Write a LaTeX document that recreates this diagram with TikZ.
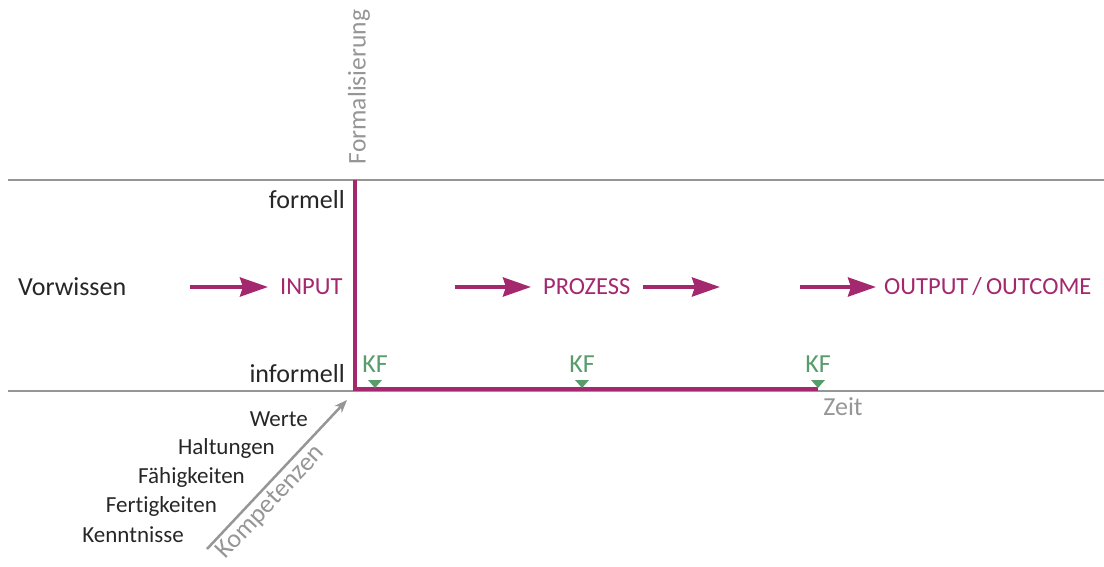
\documentclass[tikz,border=0pt]{standalone}
\usepackage{fontspec}
\setmainfont{Carlito}[Ligatures={NoCommon}]
\usetikzlibrary{arrows.meta}
\definecolor{magentaline}{RGB}{163,40,110}
\definecolor{kfgreen}{RGB}{88,156,108}
\definecolor{axisgray}{RGB}{150,150,150}
\tikzset{
  x=1pt, y=-1pt,
  txt/.style={font=\fontsize{26}{30}\selectfont, inner sep=0pt},
  blacktxt/.style={txt, text=black!85},
  listtxt/.style={blacktxt, font=\fontsize{23}{27}\selectfont},
  flowtxt/.style={txt, text=magentaline, font=\fontsize{24.5}{28}\selectfont},
  graytxt/.style={txt, text=axisgray},
  kftxt/.style={txt, text=kfgreen},
  flowarrow/.style={draw=magentaline, line width=4pt,
    -{Stealth[length=28pt, width=19pt, inset=3pt]}},
  axisline/.style={draw=axisgray, line width=2pt},
  mainline/.style={draw=magentaline, line width=4.5pt},
  marker/.style={fill=kfgreen, draw=none},
}
\begin{document}
\begin{tikzpicture}
\useasboundingbox (0,0) rectangle (1104,567);

% horizontal reference lines
\coordinate (tl) at (8,180);
\coordinate (tr) at (1104,180);
\coordinate (bl) at (8,391);
\coordinate (br) at (1104,391);
\draw[axisline] (tl) -- (tr);
\draw[axisline] (bl) -- (br);

% formalisation axis and time axis
\coordinate (origin) at (355,389);
\coordinate (top) at (355,180);
\coordinate (bottom) at (355,391);
\coordinate (tend) at (818,389);
\draw[mainline] (top) -- (bottom);
\draw[mainline] ([xshift=-2.25pt]origin) -- (tend);

\node[graytxt, rotate=90, font=\fontsize{25.5}{29}\selectfont] (formal) at (359,87) {Formalisierung};
\node[blacktxt, anchor=east] (formell) at (345,200) {formell};
\node[blacktxt, anchor=east] (informell) at (345,374) {informell};
\node[graytxt] (zeit) at (843,407) {Zeit};

% flow
\node[blacktxt, anchor=west] (vor) at (18,287) {Vorwissen};
\node[flowtxt, anchor=west] (input) at (280,287) {INPUT};
\node[flowtxt, anchor=west] (proz) at (543,287) {PROZESS};
\node[flowtxt, anchor=west] (out) at (884,287) {OUTPUT\,/\,OUTCOME};
\coordinate (a1s) at (190,287);
\coordinate (a1e) at (268,287);
\coordinate (a2s) at (455,287);
\coordinate (a2e) at (531,287);
\coordinate (a3s) at (643,287);
\coordinate (a3e) at (720,287);
\coordinate (a4s) at (800,287);
\coordinate (a4e) at (876,287);
\draw[flowarrow] (a1s) -- (a1e);
\draw[flowarrow] (a2s) -- (a2e);
\draw[flowarrow] (a3s) -- (a3e);
\draw[flowarrow] (a4s) -- (a4e);

% KF markers
\foreach \n/\x in {k1/375, k2/582, k3/818} {
  \node[kftxt] (\n) at (\x,364) {KF};
  \fill[marker] (\x-7,380) -- (\x+7,380) -- (\x,388) -- cycle;
}

% competences
\coordinate (cs) at (207,549);
\coordinate (ce) at (347,400);
\draw[draw=axisgray, line width=2.5pt, -{Stealth[length=13pt, width=10pt]}] (cs) -- (ce)
  node[pos=0.38, sloped, below=3pt, graytxt] (komp) {Kompetenzen};
\node[listtxt, anchor=east] (werte) at (308,419) {Werte};
\node[listtxt, anchor=east] (halt) at (275,448) {Haltungen};
\node[listtxt, anchor=east] (faeh) at (245,477) {Fähigkeiten};
\node[listtxt, anchor=east] (fert) at (217,506) {Fertigkeiten};
\node[listtxt, anchor=east] (kenn) at (184,535) {Kenntnisse};
\end{tikzpicture}
\end{document}
